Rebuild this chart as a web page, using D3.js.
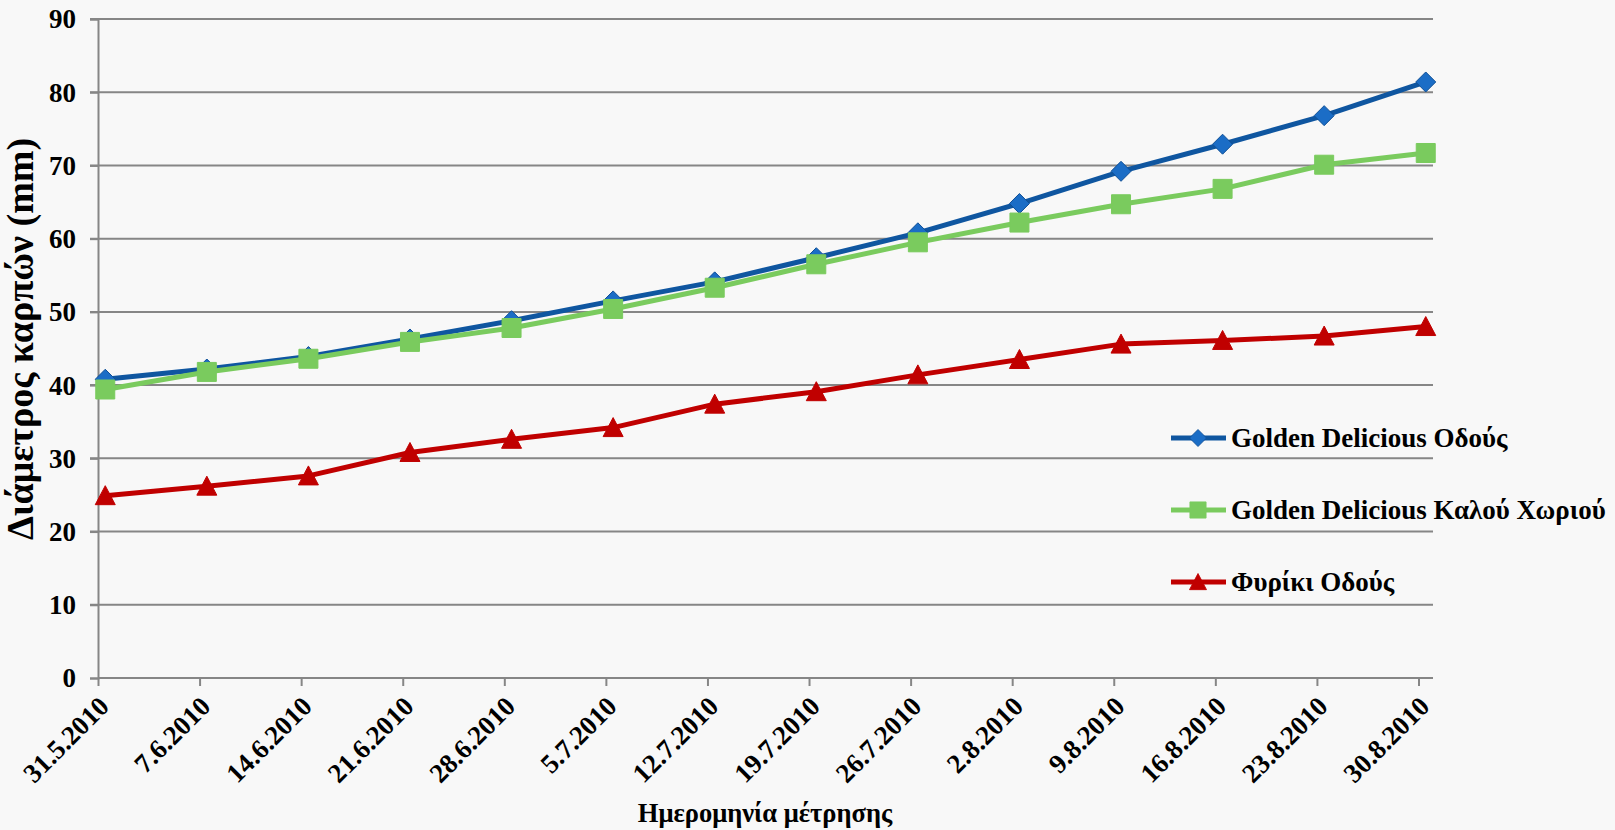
<!DOCTYPE html>
<html>
<head>
<meta charset="utf-8">
<script src="https://cdn.jsdelivr.net/npm/d3@7/dist/d3.min.js"></script>
<style>
  html, body { margin: 0; padding: 0; background: #f8f8f8; }
  svg { display: block; }
  text { font-family: "Liberation Serif", "Times New Roman", serif; font-weight: bold; fill: #000; }
</style>
</head>
<body>
<svg id="chart" width="1615" height="830"></svg>
<script>
// ---- Data ----
const dateLabels = ["31.5.2010","7.6.2010","14.6.2010","21.6.2010","28.6.2010","5.7.2010","12.7.2010",
                    "19.7.2010","26.7.2010","2.8.2010","9.8.2010","16.8.2010","23.8.2010","30.8.2010"];
const goldenOdous = [40.8, 42.2, 43.9, 46.3, 48.8, 51.5, 54.1, 57.4, 60.8, 64.8, 69.2, 72.9, 76.8, 81.4];
const goldenKalou = [39.4, 41.8, 43.6, 45.9, 47.8, 50.4, 53.3, 56.5, 59.5, 62.2, 64.7, 66.8, 70.1, 71.7];
const fyrikiOdous = [24.9, 26.2, 27.6, 30.8, 32.6, 34.2, 37.4, 39.1, 41.4, 43.5, 45.6, 46.1, 46.7, 48.0];
const seriesNames = ["Golden Delicious Οδούς", "Golden Delicious Καλού Χωριού", "Φυρίκι Οδούς"];
const yTicks = [0, 10, 20, 30, 40, 50, 60, 70, 80, 90];
const yTitle = "Διάμετρος καρπών (mm)";
const xTitle = "Ημερομηνία μέτρησης";

(function () {
const parse = s => { const [d, m, yr] = s.split(".").map(Number); return new Date(yr, m - 1, d); };
const dates = dateLabels.map(parse);
const DAY = 86400000;

const svg = d3.select("#chart");
const pl = 98, pr = 1433, pt = 19, pb = 678;

const x = d3.scaleTime()
  .domain([dates[0], new Date(+dates[dates.length - 1] + DAY)])
  .range([pl, pr]);
const y = d3.scaleLinear().domain([0, 90]).range([pb, pt]);

// gridlines
svg.append("g").selectAll("line").data(yTicks.filter(t => t > 0)).join("line")
  .attr("x1", pl - 8).attr("x2", pr)
  .attr("y1", d => y(d)).attr("y2", d => y(d))
  .attr("stroke", "#868686").attr("stroke-width", 2);

// y axis
const yAxis = svg.append("g").attr("transform", `translate(${pl},0)`)
  .call(d3.axisLeft(y).tickValues(yTicks).tickSize(8).tickPadding(14).tickFormat(d3.format("d")));
yAxis.select(".domain").attr("stroke", "#868686").attr("stroke-width", 2);
yAxis.selectAll(".tick line").attr("stroke", "#868686").attr("stroke-width", 2);
yAxis.selectAll(".tick text").style("font-size", "27px").attr("dy", "0.33em")
  .style("font-family", "Liberation Serif").style("font-weight", "bold").attr("fill", "#000");

// x axis
const xAxis = svg.append("g").attr("transform", `translate(0,${pb})`)
  .call(d3.axisBottom(x).tickValues(dates).tickSize(8).tickFormat((d, i) => dateLabels[i]));
xAxis.select(".domain").attr("stroke", "#868686").attr("stroke-width", 2)
  .attr("d", `M${pl},0H${pr}`);
xAxis.selectAll(".tick line").attr("stroke", "#868686").attr("stroke-width", 2);
xAxis.selectAll(".tick text")
  .style("font-size", "27px").style("font-family", "Liberation Serif").style("font-weight", "bold")
  .attr("fill", "#000")
  .attr("text-anchor", "end")
  .attr("y", 0).attr("dy", 0)
  .attr("transform", "translate(12,30) rotate(-45)");

// titles
svg.append("text")
  .attr("transform", "translate(33,339) rotate(-90)")
  .attr("text-anchor", "middle")
  .style("font-size", "38px")
  .text(yTitle);
svg.append("text")
  .attr("x", 765).attr("y", 822)
  .attr("text-anchor", "middle")
  .style("font-size", "26.5px")
  .text(xTitle);

// series
const series = [
  { name: seriesNames[0], values: goldenOdous, line: "#0f56a0", fill: "#1b6dc6", stroke: "#0f4f96", shape: "diamond" },
  { name: seriesNames[1], values: goldenKalou, line: "#7acb5e", fill: "#7acb5e", stroke: "#7acb5e", shape: "square" },
  { name: seriesNames[2], values: fyrikiOdous, line: "#c00000", fill: "#c00000", stroke: "#c00000", shape: "triangle" }
];

function markerPath(shape) {
  if (shape === "square") return "M-9.5,-9.5H9.5V9.5H-9.5Z";
  if (shape === "triangle") return "M0,-10L10,9L-10,9Z";
  return "M0,-10L10,0L0,10L-10,0Z";
}

const line = d3.line()
  .x((d, i) => x(new Date(+dates[i] + DAY / 2)))
  .y(d => y(d));

series.forEach(s => {
  const g = svg.append("g");
  g.append("path").datum(s.values).attr("d", line)
    .attr("fill", "none").attr("stroke", s.line).attr("stroke-width", 5).attr("stroke-linejoin", "round");
  g.selectAll("path.m").data(s.values).join("path").attr("class", "m")
    .attr("transform", (d, i) => `translate(${x(new Date(+dates[i] + DAY / 2))},${y(d)})`)
    .attr("d", markerPath(s.shape))
    .attr("fill", s.fill).attr("stroke", s.stroke).attr("stroke-width", 1);
});

// legend
const legendY = [438, 510, 582];
series.forEach((s, i) => {
  const g = svg.append("g").attr("transform", `translate(0,${legendY[i]})`);
  g.append("line").attr("x1", 1171).attr("x2", 1226).attr("y1", 0).attr("y2", 0)
    .attr("stroke", s.line).attr("stroke-width", 5);
  g.append("path").attr("transform", "translate(1198,0) scale(0.85)")
    .attr("d", markerPath(s.shape)).attr("fill", s.fill).attr("stroke", s.stroke);
  g.append("text").attr("x", 1231).attr("y", 0).attr("dy", "0.35em")
    .style("font-size", "27px").text(s.name);
});
})();
</script>
</body>
</html>
